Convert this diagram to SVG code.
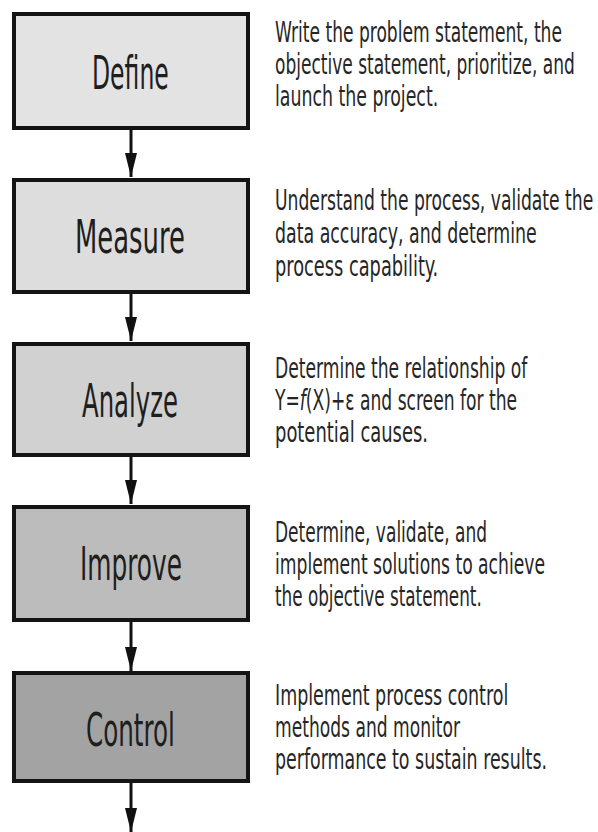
<svg xmlns="http://www.w3.org/2000/svg" width="598" height="832" viewBox="0 0 598 832">
<style>
.box{stroke:#141414;stroke-width:4}
.lbl{font-family:"Liberation Sans Narrow","DejaVu Sans Condensed","Liberation Sans",Arial,sans-serif;font-stretch:condensed;font-size:46px;fill:#1e1e1e}
.desc{font-family:"Liberation Sans Narrow","DejaVu Sans Condensed","Liberation Sans",Arial,sans-serif;font-stretch:condensed;font-size:28px;fill:#262626}
.conn{stroke:#111;stroke-width:3;fill:none}
</style>
<defs>
<marker id="ah" viewBox="0 0 24 12" refX="24" refY="6" markerWidth="24" markerHeight="12" markerUnits="userSpaceOnUse" orient="auto">
<path d="M0,0 L24,6 L0,12 z" fill="#111"/>
</marker>
</defs>
<rect width="598" height="832" fill="#ffffff"/>
<g id="connectors">
<line class="conn" x1="131" y1="130" x2="131" y2="177" marker-end="url(#ah)"/>
<line class="conn" x1="131" y1="294" x2="131" y2="341" marker-end="url(#ah)"/>
<line class="conn" x1="131" y1="457" x2="131" y2="504" marker-end="url(#ah)"/>
<line class="conn" x1="131" y1="621" x2="131" y2="671" marker-end="url(#ah)"/>
<line class="conn" x1="131" y1="783" x2="131" y2="832" marker-end="url(#ah)"/>
</g>
<g id="define">
<rect class="box" x="14" y="14" width="234" height="114" fill="#e3e3e3"/>
<text class="lbl" transform="translate(92,89) scale(0.6,1)" textLength="128" lengthAdjust="spacingAndGlyphs">Define</text>
<text class="desc" transform="translate(275,42) scale(0.68,1)" textLength="422" lengthAdjust="spacingAndGlyphs">Write the problem statement, the</text>
<text class="desc" transform="translate(275,74) scale(0.68,1)" textLength="441" lengthAdjust="spacingAndGlyphs">objective statement, prioritize, and</text>
<text class="desc" transform="translate(275,106) scale(0.68,1)" textLength="240" lengthAdjust="spacingAndGlyphs">launch the project.</text>
</g>
<g id="measure">
<rect class="box" x="14" y="180" width="234" height="112" fill="#dddddd"/>
<text class="lbl" transform="translate(75,253) scale(0.6,1)" textLength="183" lengthAdjust="spacingAndGlyphs">Measure</text>
<text class="desc" transform="translate(275,210) scale(0.68,1)" textLength="468" lengthAdjust="spacingAndGlyphs">Understand the process, validate the</text>
<text class="desc" transform="translate(275,243) scale(0.68,1)" textLength="385" lengthAdjust="spacingAndGlyphs">data accuracy, and determine</text>
<text class="desc" transform="translate(275,276) scale(0.68,1)" textLength="240" lengthAdjust="spacingAndGlyphs">process capability.</text>
</g>
<g id="analyze">
<rect class="box" x="14" y="344" width="234" height="111" fill="#d1d1d1"/>
<text class="lbl" transform="translate(82,417) scale(0.6,1)" textLength="160" lengthAdjust="spacingAndGlyphs">Analyze</text>
<text class="desc" transform="translate(275,378) scale(0.68,1)" textLength="371" lengthAdjust="spacingAndGlyphs">Determine the relationship of</text>
<text class="desc" transform="translate(275,410) scale(0.68,1)" textLength="356" lengthAdjust="spacingAndGlyphs">Y=<tspan font-style="italic">f</tspan>(X)+ε and screen for the</text>
<text class="desc" transform="translate(275,442) scale(0.68,1)" textLength="225" lengthAdjust="spacingAndGlyphs">potential causes.</text>
</g>
<g id="improve">
<rect class="box" x="14" y="507" width="234" height="113" fill="#bcbcbc"/>
<text class="lbl" transform="translate(80,580) scale(0.6,1)" textLength="170" lengthAdjust="spacingAndGlyphs">Improve</text>
<text class="desc" transform="translate(275,542) scale(0.68,1)" textLength="312" lengthAdjust="spacingAndGlyphs">Determine, validate, and</text>
<text class="desc" transform="translate(275,574) scale(0.68,1)" textLength="397" lengthAdjust="spacingAndGlyphs">implement solutions to achieve</text>
<text class="desc" transform="translate(275,606) scale(0.68,1)" textLength="304" lengthAdjust="spacingAndGlyphs">the objective statement.</text>
</g>
<g id="control">
<rect class="box" x="14" y="673" width="234" height="108" fill="#a3a3a3"/>
<text class="lbl" transform="translate(86,746) scale(0.6,1)" textLength="148" lengthAdjust="spacingAndGlyphs">Control</text>
<text class="desc" transform="translate(275,705) scale(0.68,1)" textLength="343" lengthAdjust="spacingAndGlyphs">Implement process control</text>
<text class="desc" transform="translate(275,737) scale(0.68,1)" textLength="272" lengthAdjust="spacingAndGlyphs">methods and monitor</text>
<text class="desc" transform="translate(275,769) scale(0.68,1)" textLength="400" lengthAdjust="spacingAndGlyphs">performance to sustain results.</text>
</g>
</svg>
